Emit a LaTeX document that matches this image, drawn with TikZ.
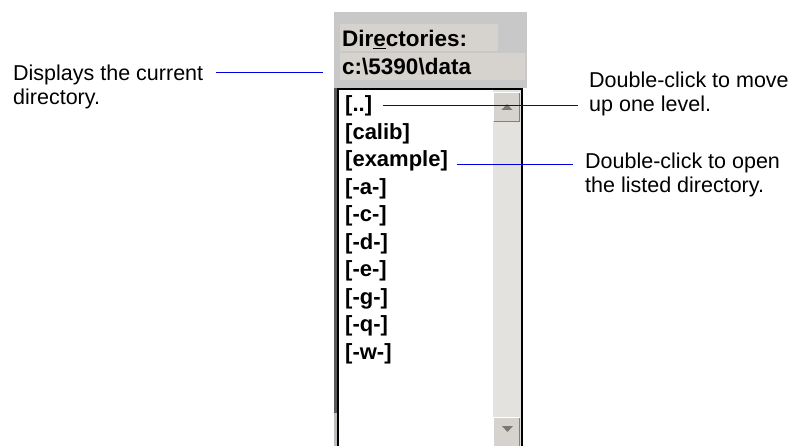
\documentclass[tikz,border=0pt]{standalone}
\usepackage{fontspec}
\setmainfont{Liberation Sans}
\definecolor{panelgray}{RGB}{200,200,200}
\definecolor{labelgray}{RGB}{214,211,206}
\definecolor{stripegray}{RGB}{90,90,90}
\definecolor{lightstripe}{RGB}{190,190,185}
\definecolor{trackgray}{RGB}{228,226,222}
\definecolor{btngray}{RGB}{214,211,206}
\definecolor{bevelgray}{RGB}{128,128,128}
\definecolor{arrowgray}{RGB}{120,120,120}
\definecolor{leadblue}{RGB}{0,0,225}
\begin{document}
\begin{tikzpicture}[x=1pt,y=-1pt,
  lead/.style={draw=leadblue, line width=1pt},
  note/.style={anchor=base west, inner sep=0pt, align=left, font=\fontsize{21.5}{24}\selectfont},
  item/.style={anchor=base west, inner sep=0pt, font=\fontsize{22}{22}\selectfont\bfseries},
  hdr/.style={anchor=base west, inner sep=0pt, font=\fontsize{22.5}{22}\selectfont\bfseries},
  btn/.style={fill=btngray},
  arrowtri/.style={fill=arrowgray}]
\useasboundingbox (0,0) rectangle (793,446);
\fill[white] (0,0) rectangle (793,446);

% header panel
\fill[panelgray] (334,12) rectangle (527,88);
\fill[labelgray] (340,24) rectangle (498,51);
\fill[labelgray] (340,53) rectangle (525,80);
\node[hdr] (dirlabel) at (342,47) {Dir\underline{e}ctories:};
\node[hdr] (curdir) at (342,75) {c:\textbackslash 5390\textbackslash data};

% list box
\fill[white] (339,90) rectangle (521,446);
\fill[stripegray] (334,88) rectangle (337,413);
\fill[lightstripe] (334,413) rectangle (337,446);
\fill[black] (337,88) rectangle (339,446);
\fill[black] (337,88) rectangle (523,90);
\fill[black] (521,88) rectangle (523,446);

% scrollbar
\fill[trackgray] (493,90) rectangle (521,446);
\path[btn] (493,92) rectangle (520,122);
\draw[white, line width=1pt] (493.5,121.5) -- (493.5,92.5) -- (519.5,92.5);
\draw[bevelgray, line width=1pt] (494,121.5) -- (519.5,121.5) -- (519.5,93);
\path[arrowtri] (501.5,110) -- (507,104) -- (512.5,110) -- cycle;
\path[btn] (493,417) rectangle (520,446);
\draw[white, line width=1pt] (493.5,446) -- (493.5,417.5) -- (519.5,417.5);
\draw[bevelgray, line width=1pt] (519.5,418) -- (519.5,446);
\path[arrowtri] (502,426) -- (513,426) -- (507.5,432) -- cycle;

% list items
\foreach \t [count=\i] in {{[..]},{[calib]},{[example]},{[-a-]},{[-c-]},{[-d-]},{[-e-]},{[-g-]},{[-q-]},{[-w-]}}
  \node[item] (item\i) at (345,{112+(\i-1)*27.5}) {\t};

% annotations (base anchor = baseline of the last line)
\node[note] (notecur) at (13,105) {Displays the current\\directory.};
\node[note] (noteup) at (589,112) {Double-click to move\\up one level.};
\node[note] (noteopen) at (585,193) {Double-click to open\\the listed directory.};

\coordinate (curA) at (216,72.5);
\coordinate (curB) at (323,72.5);
\coordinate (upA) at (383,105.5);
\coordinate (upB) at (578,105.5);
\coordinate (openA) at (457,164.5);
\coordinate (openB) at (573,164.5);
\draw[lead] (curA) -- (curB);
\draw[lead] (upA) -- (upB);
\draw[lead] (openA) -- (openB);
\end{tikzpicture}
\end{document}
